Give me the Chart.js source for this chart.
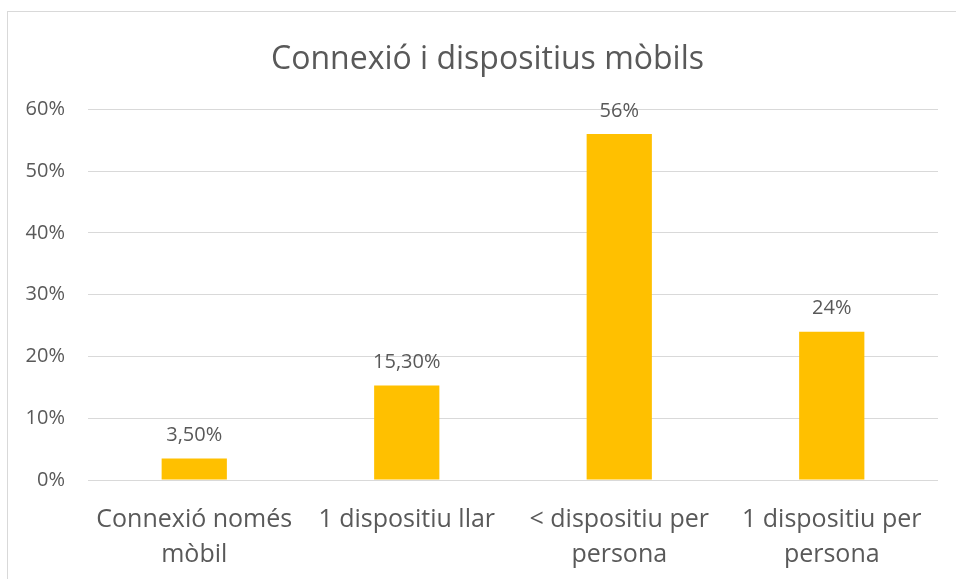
<!DOCTYPE html>
<html>
<head>
<meta charset="utf-8">
<script src="https://cdn.jsdelivr.net/npm/chart.js@4/dist/chart.umd.min.js"></script>
<style>
  html, body { margin: 0; padding: 0; background: #fff; overflow: hidden; }
  #wrap { position: relative; width: 956px; height: 579px; overflow: hidden; }
  #frame { position: absolute; left: 7px; top: 11px; right: 0; bottom: 0;
           border-left: 1px solid #d9d9d9; border-top: 1px solid #d9d9d9; }
  canvas { position: absolute; left: 0; top: 0; }
</style>
</head>
<body>
<div id="wrap">
  <div id="frame"></div>
  <canvas id="c" width="956" height="579"></canvas>
</div>
<script>
const categories = [
  ["Connexió només", "mòbil"],
  ["1 dispositiu llar"],
  ["< dispositiu per", "persona"],
  ["1 dispositiu per", "persona"]
];
const values = [3.5, 15.3, 56, 24];
const valueLabels = ["3,50%", "15,30%", "56%", "24%"];
const titleText = "Connexió i dispositius mòbils";

const TEXT = "#595959";
const FONT = "'Open Sans', sans-serif";

const dataLabels = {
  id: "dataLabels",
  afterDatasetsDraw(chart) {
    const ctx = chart.ctx;
    const meta = chart.getDatasetMeta(0);
    ctx.save();
    ctx.fillStyle = TEXT;
    ctx.font = "20px " + FONT;
    ctx.textAlign = "center";
    ctx.textBaseline = "middle";
    meta.data.forEach((bar, i) => {
      ctx.fillText(valueLabels[i], bar.x, bar.y - 23);
    });
    ctx.restore();
  }
};

new Chart(document.getElementById("c"), {
  type: "bar",
  data: {
    labels: categories,
    datasets: [{
      data: values,
      backgroundColor: "#FFC000",
      borderWidth: 0,
      categoryPercentage: 1,
      barPercentage: 0.307
    }]
  },
  options: {
    responsive: false,
    animation: false,
    layout: { padding: { left: 0, right: -19, top: 0, bottom: 0 } },
    plugins: {
      legend: { display: false },
      tooltip: { enabled: false },
      title: {
        display: true,
        text: titleText,
        color: TEXT,
        font: { family: FONT, size: 32, weight: "normal", lineHeight: 1.2 },
        padding: { top: 41, bottom: 30 }
      }
    },
    scales: {
      x: {
        grid: { display: false, drawTicks: false },
        border: { display: false },
        ticks: {
          color: TEXT,
          font: { family: FONT, size: 25, lineHeight: 1.4 },
          padding: 22,
          maxRotation: 0,
          autoSkip: false
        },
        afterFit(scale) { scale.height = 99; }
      },
      y: {
        min: 0,
        max: 60,
        grid: { color: "#d9d9d9", lineWidth: 1, drawTicks: false },
        border: { display: false },
        ticks: {
          stepSize: 10,
          color: TEXT,
          font: { family: FONT, size: 20 },
          padding: 23,
          callback: v => v + "%"
        },
        afterFit(scale) { scale.width = 88; }
      },
      y2: {
        position: "right",
        display: true,
        min: 0,
        max: 60,
        grid: { display: false, drawTicks: false },
        border: { display: false },
        ticks: { display: false },
        afterFit(scale) { scale.width = 37; }
      }
    }
  },
  plugins: [dataLabels]
});
</script>
</body>
</html>
